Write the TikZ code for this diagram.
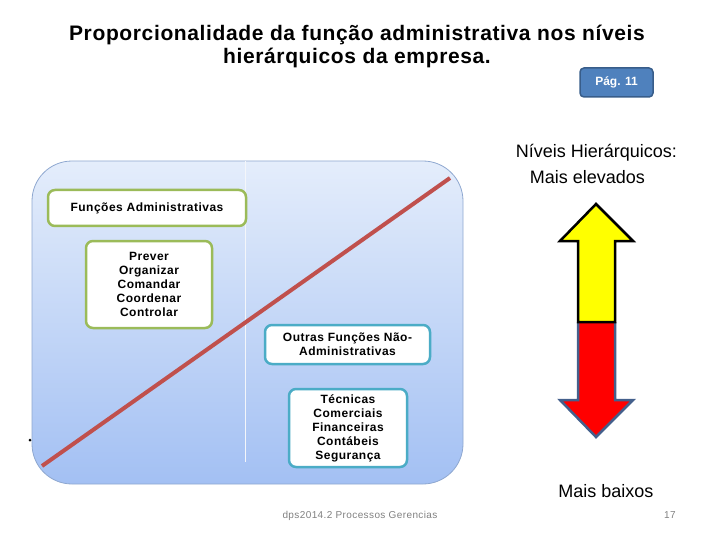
\documentclass[tikz,border=0pt]{standalone}
\usepackage{fontspec}
\setmainfont{Liberation Sans}

\definecolor{lineRed}{HTML}{C0504D}
\definecolor{boxGreen}{HTML}{9BBB59}
\definecolor{boxBlue}{HTML}{4BACC6}
\definecolor{pageBlue}{HTML}{4F81BD}
\definecolor{pageEdge}{HTML}{385D8A}
\definecolor{panelTop}{HTML}{E4EDFB}
\definecolor{panelBottom}{HTML}{A3C0F3}
\definecolor{panelEdge}{HTML}{8FA8D0}
\definecolor{arrowEdge}{HTML}{44608C}
\definecolor{arrowYellow}{HTML}{FFFF00}
\definecolor{arrowRed}{HTML}{FF0000}

\tikzset{
  funcbox/.style={draw=boxGreen, line width=2.5pt, rounded corners=7pt, fill=white,
    align=center, inner sep=0pt,
    font=\bfseries\fontsize{12}{14}\selectfont\addfontfeatures{LetterSpace=4}},
  otherbox/.style={funcbox, draw=boxBlue},
  pagebox/.style={draw=pageEdge, line width=1.5pt, fill=pageBlue, rounded corners=4pt,
    text=white, font=\bfseries\fontsize{12}{14}\selectfont,
    minimum width=73pt, minimum height=29pt, inner sep=0pt},
  titletext/.style={anchor=base,
    font=\bfseries\fontsize{21}{24}\selectfont\addfontfeatures{LetterSpace=3}},
  leveltext/.style={anchor=base, font=\fontsize{18}{21}\selectfont},
  foottext/.style={anchor=base, text=gray,
    font=\fontsize{10}{12}\selectfont\addfontfeatures{LetterSpace=4}}
}

\begin{document}
\begin{tikzpicture}[x=1pt,y=-1pt]
  \useasboundingbox (0,0) rectangle (720,540);

  % title
  \node[titletext] (title1) at (357,41) {Proporcionalidade da função administrativa nos níveis};
  \node[titletext] (title2) at (357,64) {hierárquicos da empresa.};
  \node[pagebox] (pag) at (616.5,82.5) {Pág. 11};

  % panel with the two halves
  \shade[top color=panelTop, bottom color=panelBottom, draw=panelEdge, line width=0.8pt,
    rounded corners=40pt] (32,161) rectangle (463,484);
  \draw[white!90!panelEdge, line width=1pt] (245,161) -- (245,462);
  \fill (30,440) circle (1.5);

  \coordinate (lineStart) at (42,466);
  \coordinate (lineEnd) at (450,178);
  \draw[lineRed, line width=4pt] (lineStart) -- (lineEnd);

  \node[funcbox, minimum width=198pt, minimum height=36pt] (adm) at (147,208) {Funções Administrativas};
  \node[funcbox, minimum width=126pt, minimum height=87pt] (admlist) at (149,284.5)
    {Prever\\Organizar\\Comandar\\Coordenar\\Controlar};
  \node[otherbox, minimum width=165pt, minimum height=39pt] (outras) at (347.5,344.5)
    {Outras Funções Não-\\Administrativas};
  \node[otherbox, minimum width=118pt, minimum height=78pt] (outraslist) at (348,428)
    {Técnicas\\Comerciais\\Financeiras\\Contábeis\\Segurança};

  % levels
  \node[leveltext] (niveis) at (596.5,158) {Níveis Hierárquicos:};
  \node[leveltext] (altos) at (587.5,184) {Mais elevados};
  \node[leveltext] (baixos) at (606,497) {Mais baixos};

  % routine for the double arrow
  \draw[fill=arrowRed, draw=arrowEdge, line width=2.5pt, line join=miter]
    (578,322) -- (578,400) -- (560,400) -- (596,437) -- (633,400) -- (615,400) -- (615,322);
  \draw[fill=arrowYellow, draw=black, line width=2.5pt, line join=miter]
    (578,322) -- (578,241) -- (560,241) -- (596,204) -- (633,241) -- (615,241) -- (615,322) -- cycle;

  % footer
  \node[foottext] (foot) at (360,518) {dps2014.2 Processos Gerencias};
  \node[foottext] (page) at (670,518) {17};
\end{tikzpicture}
\end{document}
